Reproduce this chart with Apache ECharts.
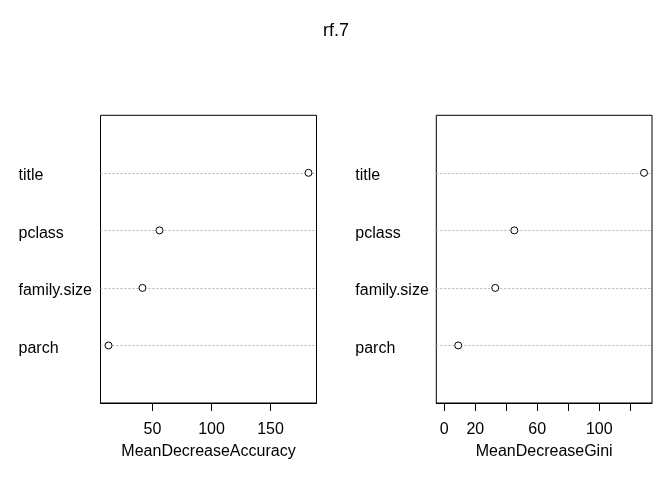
<!DOCTYPE html>
<html>
<head>
<meta charset="utf-8">
<script src="https://cdn.jsdelivr.net/npm/echarts@6/dist/echarts.min.js"></script>
<style>
  html, body { margin: 0; padding: 0; background: #fff; }
  #chart { width: 672px; height: 480px; }
</style>
</head>
<body>
<div id="chart"></div>
<script>
var chartTitle = 'rf.7';
// rows from bottom to top
var features = ['parch', 'family.size', 'pclass', 'title'];
var meanDecreaseAccuracy = [12.7, 41.5, 55.9, 182.2];
var meanDecreaseGini = [9.0, 32.9, 45.2, 128.9];
var accuracyTicks = [50, 100, 150];
var accuracyTickLabels = [50, 100, 150];
var giniTicks = [0, 20, 40, 60, 80, 100, 120];
var giniTickLabels = [0, 20, 60, 100];

var FONT = 'Arial, "Liberation Sans", sans-serif';
var myChart = echarts.init(document.getElementById('chart'));

// R style range: 4% padding each side
function padRange(lo, hi) {
    var d = (hi - lo) * 0.04;
    return [lo - d, hi + d];
}
var accRange = padRange(Math.min.apply(null, meanDecreaseAccuracy), Math.max.apply(null, meanDecreaseAccuracy));
var giniRange = padRange(0, Math.max.apply(null, meanDecreaseGini));

function toPoints(vals) {
    var out = [];
    for (var i = 0; i < vals.length; i++) {
        out.push([vals[i], i + 1]);
    }
    return out;
}
var rowLines = features.map(function (f, i) { return { yAxis: i + 1 }; });

function xAxisOf(idx, name, range, ticks, labels) {
    return {
        type: 'value', gridIndex: idx, name: name,
        min: range[0], max: range[1],
        nameLocation: 'middle', nameGap: 41,
        nameTextStyle: { color: '#000', fontSize: 16, fontFamily: FONT },
        axisLine: { show: true, lineStyle: { color: '#000', width: 1 } },
        axisTick: { show: true, length: 8, customValues: ticks, lineStyle: { color: '#000' } },
        axisLabel: { customValues: labels, color: '#000', fontSize: 16, fontFamily: FONT, margin: 19 },
        splitLine: { show: false }
    };
}
function yAxisOf(idx, margin) {
    return {
        type: 'value', gridIndex: idx, min: 0, max: 5,
        axisLine: { show: false }, axisTick: { show: false }, splitLine: { show: false },
        axisLabel: {
            customValues: [1, 2, 3, 4], align: 'left', margin: margin,
            formatter: function (v) { return '{a|' + features[v - 1] + '}'; },
            rich: {
                a: { color: '#000', fontSize: 16, fontFamily: FONT, padding: [6, 0, 0, 0] }
            }
        }
    };
}
function seriesOf(idx, vals) {
    return {
        type: 'scatter', xAxisIndex: idx, yAxisIndex: idx,
        data: toPoints(vals), symbol: 'circle', symbolSize: 7,
        itemStyle: { color: '#fff', borderColor: '#000', borderWidth: 1, opacity: 1 },
        z: 5,
        markLine: {
            silent: true, symbol: ['none', 'none'], label: { show: false },
            lineStyle: { color: '#b5b5b5', type: [2, 2], width: 1 },
            data: rowLines, animation: false
        }
    };
}

var option = {
    animation: false,
    backgroundColor: '#fff',
    title: {
        text: chartTitle, left: 'center', top: 17,
        textStyle: { fontSize: 18, fontWeight: 'normal', color: '#000', fontFamily: FONT }
    },
    grid: [
        { left: 100.5, top: 115.3, width: 216, height: 287.7, show: true, borderColor: '#000', borderWidth: 1, backgroundColor: 'transparent' },
        { left: 436.3, top: 115.3, width: 215.7, height: 287.7, show: true, borderColor: '#000', borderWidth: 1, backgroundColor: 'transparent' }
    ],
    xAxis: [
        xAxisOf(0, 'MeanDecreaseAccuracy', accRange, accuracyTicks, accuracyTickLabels),
        xAxisOf(1, 'MeanDecreaseGini', giniRange, giniTicks, giniTickLabels)
    ],
    yAxis: [yAxisOf(0, 82), yAxisOf(1, 81)],
    series: [seriesOf(0, meanDecreaseAccuracy), seriesOf(1, meanDecreaseGini)]
};
myChart.setOption(option);
</script>
</body>
</html>
